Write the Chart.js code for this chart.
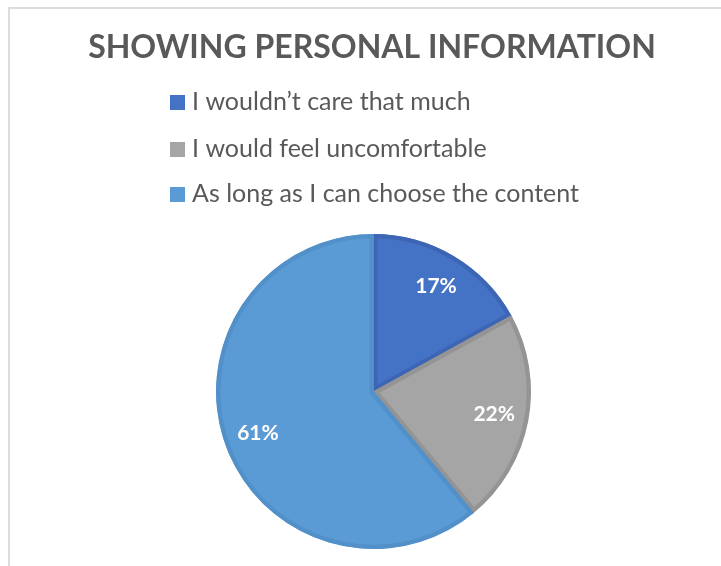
<!DOCTYPE html>
<html>
<head>
<meta charset="utf-8">
<script src="https://cdn.jsdelivr.net/npm/chart.js@4"></script>
<style>
  body { margin: 0; background: #fff; }
  .frame {
    position: absolute; left: 8px; top: 7px; width: 713px; height: 559px;
    border-left: 2px solid #dcdcdc; border-top: 2px solid #dcdcdc;
  }
  .wrap { position: absolute; left: 0; top: 0; width: 721px; height: 566px; }
</style>
</head>
<body>
<div class="frame"></div>
<div class="wrap"><canvas id="pie"></canvas></div>
<script>
const title = 'SHOWING PERSONAL INFORMATION';
const answers = [
  'I wouldn\u2019t care that much',
  'I would feel uncomfortable',
  'As long as I can choose the content',
];
const shares = [17, 22, 61];
const fillColors = ['#4472C4', '#A5A5A5', '#5B9BD5'];
const edgeColors = ['#3C66B4', '#949494', '#5190C9'];

const textColor = '#595959';

// title + legend stacked above the pie, like the office chart
const headerBlock = {
  id: 'headerBlock',
  afterDraw(chart) {
    const ctx = chart.ctx;
    ctx.save();
    ctx.fillStyle = textColor;
    ctx.font = 'bold 32px Lato';
    ctx.textAlign = 'center';
    ctx.textBaseline = 'alphabetic';
    ctx.fillText(title, 372, 58);

    const rows = [102, 149, 194];
    ctx.font = '25px Lato';
    ctx.textBaseline = 'middle';
    ctx.textAlign = 'left';
    chart.data.labels.forEach((label, i) => {
      ctx.fillStyle = chart.data.datasets[0].backgroundColor[i];
      ctx.fillRect(170, rows[i] - 7, 15, 15);
      ctx.fillStyle = textColor;
      ctx.fillText(label, 192, rows[i]);
    });
    ctx.restore();
  },
};

// percent labels inside the slices
const sliceLabels = {
  id: 'sliceLabels',
  afterDatasetsDraw(chart) {
    const ctx = chart.ctx;
    const meta = chart.getDatasetMeta(0);
    ctx.save();
    ctx.font = 'bold 21px Lato';
    ctx.fillStyle = '#ffffff';
    ctx.textAlign = 'center';
    ctx.textBaseline = 'middle';
    meta.data.forEach((arc, i) => {
      const p = arc.getProps(['x', 'y', 'startAngle', 'endAngle', 'outerRadius'], true);
      const mid = (p.startAngle + p.endAngle) / 2;
      const r = p.outerRadius * 0.78;
      ctx.fillText(shares[i] + '%', p.x + Math.cos(mid) * r, p.y + Math.sin(mid) * r);
    });
    ctx.restore();
  },
};

new Chart(document.getElementById('pie'), {
  type: 'pie',
  data: {
    labels: answers,
    datasets: [{
      data: shares,
      backgroundColor: fillColors,
      borderColor: edgeColors,
      borderWidth: 4,
      borderAlign: 'inner',
    }],
  },
  options: {
    responsive: true,
    maintainAspectRatio: false,
    animation: false,
    layout: { padding: { left: 216, right: 190, top: 234, bottom: 17 } },
    plugins: {
      legend: { display: false },
      tooltip: { enabled: false },
      title: { display: false },
    },
  },
  plugins: [headerBlock, sliceLabels],
});
</script>
</body>
</html>
